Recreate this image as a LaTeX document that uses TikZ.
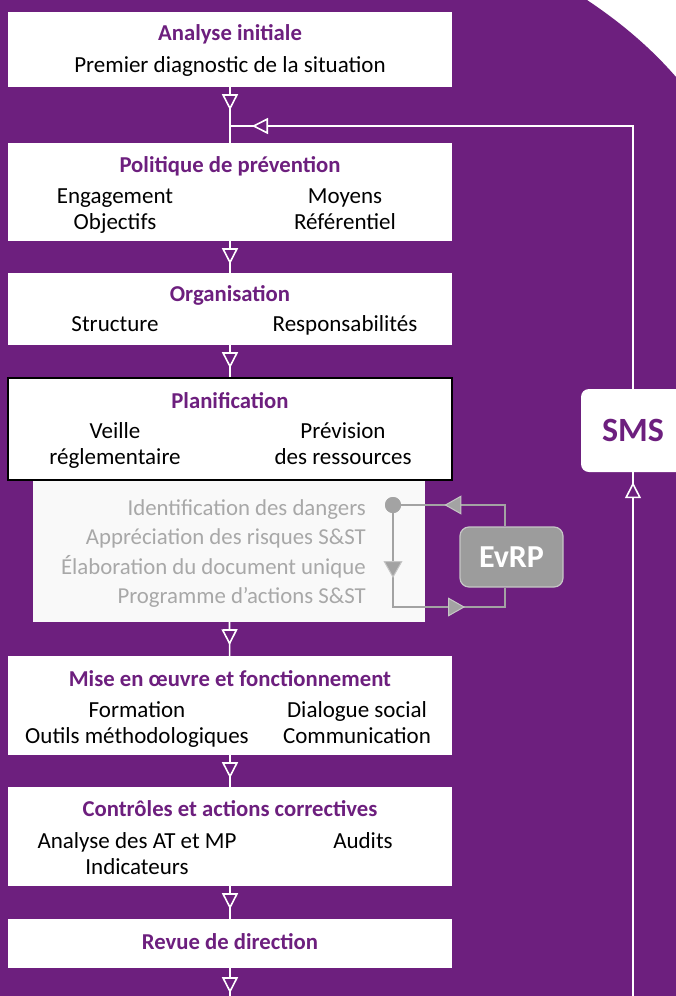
\documentclass[tikz,border=0pt]{standalone}
\usepackage{fontspec}
\setmainfont{Carlito}
\usetikzlibrary{arrows.meta, positioning, decorations.markings}
\definecolor{smspurple}{HTML}{6D1F7E}
\definecolor{evgray}{HTML}{A3A3A3}
\definecolor{evtext}{HTML}{A8A8A8}
\definecolor{evbox}{HTML}{9C9C9C}
\definecolor{evlight}{HTML}{C6C6C6}
\definecolor{panelgray}{HTML}{F9F9F9}

\begin{document}
\begin{tikzpicture}[x=1pt, y=-1pt,
        etape/.style={fill=white, minimum width=444pt, inner sep=0pt},
        titre/.style={font=\fontsize{22.7}{26}\selectfont\bfseries, text=smspurple, anchor=base, inner sep=0pt},
        texte/.style={font=\fontsize{23}{26}\selectfont, anchor=base, align=center, inner sep=0pt},
        gris/.style={font=\fontsize{22.8}{29.5}\selectfont, text=evtext, anchor=base east, align=right, inner sep=0pt},
        fleche/.style={draw=white, line width=1.6pt, postaction={decorate},
            decoration={markings, mark=at position #1 with {\arrow{Triangle[length=16pt, width=16pt, fill=smspurple]}}}},
        fleche/.default=23pt,
        evligne/.style={draw=evgray, line width=2.4pt},
        evtip/.tip={Triangle[length=17pt, width=19pt, fill=evgray, color=evlight, line width=1pt]}]
    \useasboundingbox (0,0) rectangle (676,996);
    \clip (0,0) rectangle (676,996);
    % fond
    \fill[white] (0,0) rectangle (676,996);
    \fill[smspurple] (0,0) -- (587,0) .. controls (620,22) and (650,47) .. (676,77) -- (676,996) -- (0,996) -- cycle;

    % etapes
    \node[etape, minimum height=75pt] (analyse) at (230,49.5) {};
    \node[etape, minimum height=98pt] (politique) at (230,192) {};
    \node[etape, minimum height=72pt] (organisation) at (230,309) {};
    \node[fill=panelgray, minimum width=392pt, minimum height=142pt, inner sep=0pt] (evpanel) at (229,551) {};
    \node[etape, draw=black, line width=1.5pt, minimum height=102pt] (planif) at (230,429) {};
    \node[etape, minimum height=99pt] (mise) at (230,705.5) {};
    \node[etape, minimum height=99pt] (controles) at (230,836.5) {};
    \node[etape, minimum height=49pt] (revue) at (230,943.5) {};

    \node[titre] (t-analyse) at (230,40) {Analyse initiale};
    \node[texte] (s-analyse) at (230,72) {Premier diagnostic de la situation};

    \node[titre] (t-politique) at (230,172) {Politique de prévention};
    \node[texte] (g-politique) at (115,229) {Engagement\\Objectifs};
    \node[texte] (d-politique) at (345,229) {Moyens\\Référentiel};

    \node[titre] (t-organisation) at (230,301) {Organisation};
    \node[texte] (g-organisation) at (115,331) {Structure};
    \node[texte] (d-organisation) at (345,331) {Responsabilités};

    \node[titre] (t-planif) at (230,408) {Planification};
    \node[texte] (g-planif) at (115,464) {Veille\\réglementaire};
    \node[texte] (d-planif) at (343,464) {Prévision\\des ressources};

    \node[gris] (l-evrp) at (366,603.5) {Identification des dangers\\Appréciation des risques S\&ST\\Élaboration du document unique\\Programme d’actions S\&ST};

    \node[titre] (t-mise) at (230,686) {Mise en œuvre et fonctionnement};
    \node[texte] (g-mise) at (137,743) {Formation\\Outils méthodologiques};
    \node[texte] (d-mise) at (357,743) {Dialogue social\\Communication};

    \node[titre] (t-controles) at (230,816) {Contrôles et actions correctives};
    \node[texte] (g-controles) at (137,874) {Analyse des AT et MP\\Indicateurs};
    \node[texte] (d-controles) at (363,848) {Audits};

    \node[titre] (t-revue) at (230,949) {Revue de direction};

    % SMS et EvRP
    \node[fill=white, rounded corners=8pt, minimum width=104pt, minimum height=83pt, inner sep=0pt,
        font=\fontsize{34}{36}\selectfont\bfseries, text=smspurple] (sms) at (633,430.5) {SMS};
    \node[fill=evbox, draw=evlight, line width=1.2pt, rounded corners=9pt, minimum width=103pt, minimum height=60pt, inner sep=0pt,
        font=\fontsize{32}{34}\selectfont\bfseries, text=white] (evrp) at (511.5,557) {EvRP};

    \coordinate (fin) at (230,996);
    \coordinate (retour) at (633,996);
    \coordinate (jonction) at (230,126);
    \coordinate (coin) at (393,607);

    % fleches
    \draw[fleche] (analyse) -- (politique);
    \draw[fleche] (politique) -- (organisation);
    \draw[fleche] (organisation) -- (planif);
    \draw[fleche] (evpanel) -- (mise);
    \draw[fleche] (mise) -- (controles);
    \draw[fleche] (controles) -- (revue);
    \draw[fleche=25pt] (revue) -- (fin);
    \draw[fleche=-10pt] (retour) -- (sms);
    \draw[fleche=-22pt] (sms) |- (jonction);

    % boucle EvRP
    \node[circle, fill=evgray, minimum size=16pt, inner sep=0pt] (depart) at (393,505) {};
    \draw[evligne, postaction={decorate}, decoration={markings,
        mark=at position 73pt with {\arrow{evtip}},
        mark=at position 174pt with {\arrow{evtip}}}]
        (depart.center) -- (coin) -| ([xshift=-6.5pt]evrp.south);
    \draw[evligne, postaction={decorate}, decoration={markings,
        mark=at position 82pt with {\arrow{evtip}}}]
        ([xshift=-6.5pt]evrp.north) |- (depart.center);
    \node[circle, fill=evgray, minimum size=16pt, inner sep=0pt] at (depart) {};
\end{tikzpicture}
\end{document}
